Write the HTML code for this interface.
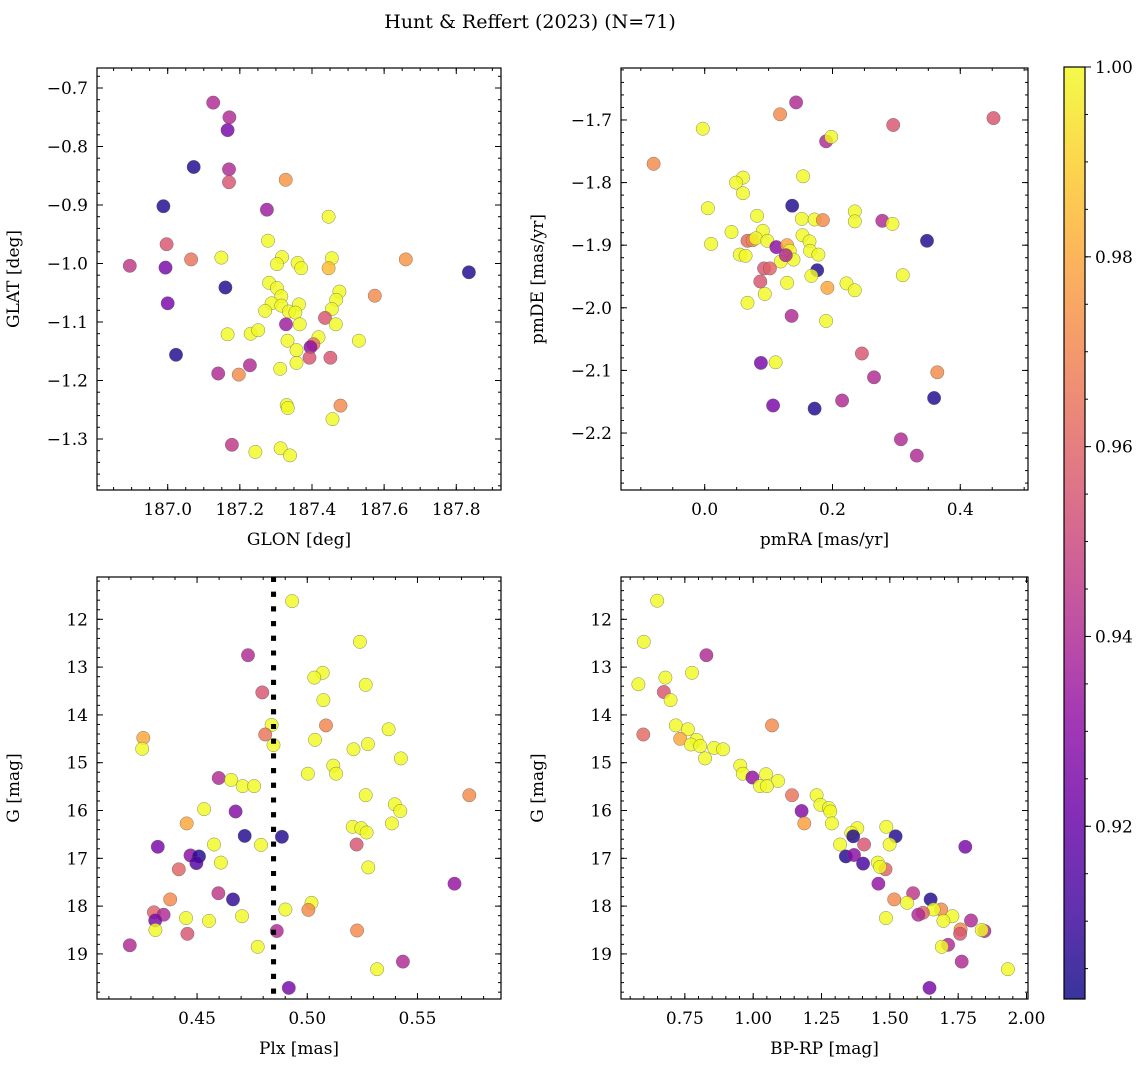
<!DOCTYPE html>
<html><head><meta charset="utf-8">
<style>
html,body{margin:0;padding:0;background:#fff;}
svg{display:block;font-family:"DejaVu Serif","Liberation Serif",serif;}
</style></head>
<body>
<svg id="fig" width="1148" height="1067" viewBox="0 0 1148 1067" xmlns="http://www.w3.org/2000/svg">
<text x="530" y="28" font-size="19" text-anchor="middle">Hunt &amp; Reffert (2023) (N=71)</text>
</svg>
<script>
// ---------- data ----------
const p1Glon=[187.126,187.171,187.166,187.072,187.170,187.170,187.327,186.988,187.275,187.446,187.278,186.997,187.065,187.149,186.895,186.994,187.317,187.303,187.360,187.370,187.455,187.446,187.660,187.835,187.160,187.281,187.303,187.315,187.476,187.574,187.467,187.288,187.315,187.364,187.270,187.336,187.354,187.455,187.000,187.436,187.328,187.366,187.466,187.166,187.230,187.251,187.332,187.418,187.530,187.404,187.396,187.357,187.023,187.393,187.451,187.228,187.357,187.312,187.140,187.197,187.330,187.333,187.479,187.457,187.178,187.243,187.313,187.339];
const p1Glat=[-0.725,-0.750,-0.772,-0.835,-0.839,-0.861,-0.857,-0.902,-0.908,-0.920,-0.961,-0.967,-0.993,-0.990,-1.004,-1.007,-0.989,-1.001,-0.999,-1.008,-0.991,-1.008,-0.993,-1.015,-1.041,-1.033,-1.042,-1.056,-1.048,-1.055,-1.062,-1.068,-1.072,-1.070,-1.081,-1.082,-1.084,-1.078,-1.068,-1.093,-1.104,-1.104,-1.104,-1.121,-1.120,-1.114,-1.132,-1.126,-1.132,-1.138,-1.143,-1.148,-1.156,-1.161,-1.161,-1.174,-1.170,-1.180,-1.188,-1.190,-1.242,-1.247,-1.243,-1.266,-1.310,-1.322,-1.316,-1.328];
const p1Prob=[0.94,0.94,0.925,0.905,0.94,0.955,0.975,0.905,0.935,1,1,0.955,0.965,1,0.945,0.925,1,1,1,1,1,0.985,0.975,0.905,0.905,1,1,1,1,0.972,1,1,1,1,1,1,1,1,0.925,0.955,0.935,1,1,1,1,1,1,1,1,0.965,0.93,1,0.905,0.955,0.955,0.94,1,1,0.94,0.972,1,1,0.972,1,0.945,1,1,1];

const p2Pmra=[0.143,0.118,0.452,0.295,-0.003,0.190,0.198,-0.080,0.154,0.060,0.049,0.060,0.005,0.137,0.082,0.152,0.172,0.185,0.235,0.235,0.278,0.294,0.348,0.042,0.010,0.091,0.067,0.075,0.080,0.098,0.153,0.164,0.112,0.129,0.055,0.064,0.133,0.165,0.178,0.119,0.139,0.127,0.093,0.102,0.176,0.167,0.087,0.129,0.222,0.235,0.192,0.310,0.094,0.067,0.136,0.190,0.246,0.088,0.111,0.364,0.265,0.359,0.215,0.107,0.172,0.307,0.332];
const p2Pmde=[-1.672,-1.691,-1.697,-1.708,-1.714,-1.734,-1.727,-1.770,-1.790,-1.792,-1.800,-1.817,-1.841,-1.837,-1.853,-1.858,-1.859,-1.860,-1.846,-1.862,-1.861,-1.866,-1.893,-1.879,-1.898,-1.877,-1.893,-1.892,-1.889,-1.893,-1.884,-1.894,-1.903,-1.900,-1.915,-1.917,-1.909,-1.909,-1.915,-1.926,-1.923,-1.916,-1.937,-1.937,-1.940,-1.949,-1.958,-1.960,-1.961,-1.972,-1.968,-1.948,-1.978,-1.992,-2.013,-2.021,-2.073,-2.088,-2.087,-2.103,-2.111,-2.144,-2.148,-2.156,-2.161,-2.210,-2.236];
const p2Prob=[0.94,0.972,0.955,0.955,1,0.94,1,0.972,1,1,1,1,1,0.905,1,1,1,0.972,1,1,0.94,1,0.905,1,1,1,0.962,0.97,1,1,1,1,0.93,0.98,1,1,1,1,1,1,1,0.94,0.955,0.96,0.905,1,0.955,1,1,1,0.98,1,1,1,0.94,1,0.955,0.925,1,0.972,0.94,0.905,0.94,0.925,0.905,0.94,0.94];

const p3Plx=[0.4931,0.5239,0.4731,0.5070,0.5032,0.5265,0.4796,0.5073,0.4838,0.5085,0.5369,0.4256,0.4809,0.5035,0.4847,0.4251,0.5275,0.5210,0.5425,0.5118,0.5131,0.5003,0.4598,0.4655,0.4707,0.4759,0.5265,0.5735,0.5397,0.5422,0.4532,0.4675,0.4453,0.5384,0.5206,0.5245,0.5269,0.4716,0.4885,0.4322,0.4577,0.4790,0.5224,0.4470,0.4509,0.4497,0.4608,0.4417,0.5277,0.5668,0.4597,0.4663,0.4378,0.5019,0.4901,0.5005,0.4304,0.4348,0.4310,0.4450,0.4554,0.4704,0.4311,0.4862,0.5226,0.4456,0.4195,0.4775,0.5434,0.5317,0.4916];
const p3G=[11.62,12.47,12.75,13.12,13.22,13.37,13.53,13.69,14.21,14.22,14.30,14.48,14.41,14.52,14.63,14.71,14.61,14.72,14.91,15.06,15.23,15.23,15.32,15.36,15.49,15.49,15.68,15.68,15.87,16.01,15.97,16.02,16.27,16.27,16.34,16.37,16.46,16.53,16.55,16.76,16.71,16.72,16.71,16.94,16.96,17.10,17.09,17.23,17.19,17.53,17.73,17.86,17.86,17.93,18.07,18.08,18.13,18.18,18.30,18.25,18.31,18.21,18.50,18.52,18.51,18.58,18.82,18.85,19.16,19.32,19.71];
const p3Prob=[1,1,0.94,1,1,1,0.955,1,1,0.97,1,0.98,0.965,1,1,1,1,1,1,1,1,1,0.94,1,1,1,1,0.972,1,1,1,0.928,0.98,1,1,1,1,0.905,0.905,0.925,1,1,0.955,0.93,0.905,0.915,1,0.96,1,0.932,0.945,0.908,0.972,1,1,0.972,0.96,0.94,0.925,1,1,1,1,0.94,0.972,0.955,0.94,1,0.94,1,0.925];
const plxCut=0.4847;

const p4Bprp=[0.649,0.600,0.829,0.679,0.776,0.580,0.673,0.698,0.717,0.761,1.069,0.598,0.733,0.793,0.772,0.806,0.824,0.857,0.890,0.953,0.962,0.997,1.047,1.091,1.025,1.050,1.142,1.232,1.246,1.277,1.282,1.177,1.187,1.288,1.381,1.359,1.366,1.487,1.521,1.499,1.406,1.776,1.318,1.339,1.369,1.402,1.456,1.484,1.464,1.458,1.585,1.649,1.516,1.563,1.688,1.660,1.621,1.604,1.729,1.696,1.486,1.797,1.759,1.757,1.846,1.836,1.713,1.690,1.763,1.932,1.645];
const p4G=[11.61,12.47,12.75,13.22,13.12,13.36,13.52,13.69,14.22,14.30,14.22,14.41,14.50,14.52,14.62,14.65,14.91,14.69,14.72,15.06,15.23,15.31,15.24,15.38,15.49,15.49,15.68,15.68,15.88,15.95,16.02,16.01,16.27,16.27,16.37,16.47,16.54,16.34,16.54,16.71,16.71,16.76,16.71,16.96,16.93,17.11,17.09,17.23,17.18,17.53,17.73,17.86,17.86,17.93,18.07,18.07,18.14,18.18,18.21,18.31,18.25,18.30,18.49,18.58,18.52,18.50,18.81,18.85,19.16,19.32,19.71];
const p4Prob=[1,1,0.94,1,1,1,0.955,1,1,1,0.972,0.962,0.98,1,1,1,1,1,1,1,1,0.932,1,1,1,1,0.965,1,1,1,1,0.928,0.978,1,1,1,0.905,1,0.905,1,0.955,0.925,1,0.905,0.93,0.913,1,0.96,1,0.932,0.945,0.905,0.972,1,0.972,1,0.96,0.94,1,1,1,0.94,0.972,0.955,0.94,1,0.94,1,0.94,1,0.925];

const p1XTicks=[187.0,187.2,187.4,187.6,187.8];
const p1XLabels=["187.0","187.2","187.4","187.6","187.8"];
const p1YTicks=[-0.7,-0.8,-0.9,-1.0,-1.1,-1.2,-1.3];
const p1YLabels=["−0.7","−0.8","−0.9","−1.0","−1.1","−1.2","−1.3"];
const p2XTicks=[0.0,0.2,0.4];
const p2XLabels=["0.0","0.2","0.4"];
const p2YTicks=[-1.7,-1.8,-1.9,-2.0,-2.1,-2.2];
const p2YLabels=["−1.7","−1.8","−1.9","−2.0","−2.1","−2.2"];
const p3XTicks=[0.45,0.50,0.55];
const p3XLabels=["0.45","0.50","0.55"];
const gTicks=[12,13,14,15,16,17,18,19];
const gLabels=["12","13","14","15","16","17","18","19"];
const p4XTicks=[0.75,1.00,1.25,1.50,1.75,2.00];
const p4XLabels=["0.75","1.00","1.25","1.50","1.75","2.00"];
const cbTicks=[1.00,0.98,0.96,0.94,0.92];
const cbLabels=["1.00","0.98","0.96","0.94","0.92"];
const cMin=0.9018, cMax=1.0;

// ---------- helpers ----------
const NS="http://www.w3.org/2000/svg";
const svg=document.getElementById('fig');
function mk(tag,attrs,parent){const e=document.createElementNS(NS,tag);for(const k in attrs)e.setAttribute(k,attrs[k]);(parent||svg).appendChild(e);return e;}
const plasmaStops=[[13,8,135],[65,4,157],[106,0,168],[143,13,164],[177,42,144],[204,71,120],[225,100,98],[242,132,75],[252,166,54],[252,206,37],[240,249,33]];
function plasma(t){t=Math.max(0,Math.min(1,t));const f=t*10;const i=Math.min(9,Math.floor(f));const r=f-i;const a=plasmaStops[i],b=plasmaStops[i+1];return 'rgb('+a.map((v,k)=>Math.round(v+(b[k]-v)*r)).join(',')+')';}

const panels=[
 {name:'glon-glat',xs:p1Glon,ys:p1Glat,cs:p1Prob,box:[97,68,501,490],xr:[186.804,187.924],yr:[-0.6658,-1.3872],
  xt:p1XTicks,xl:p1XLabels,yt:p1YTicks,yl:p1YLabels,xmin:0.05,ymin:0.02,xlab:'GLON [deg]',ylab:'GLAT [deg]'},
 {name:'pm',xs:p2Pmra,ys:p2Pmde,cs:p2Prob,box:[621,68,1028,490],xr:[-0.131,0.506],yr:[-1.617,-2.291],
  xt:p2XTicks,xl:p2XLabels,yt:p2YTicks,yl:p2YLabels,xmin:0.05,ymin:0.02,xlab:'pmRA [mas/yr]',ylab:'pmDE [mas/yr]'},
 {name:'plx-g',xs:p3Plx,ys:p3G,cs:p3Prob,box:[97,577,501,999],xr:[0.4046,0.5879],yr:[11.115,19.943],
  xt:p3XTicks,xl:p3XLabels,yt:gTicks,yl:gLabels,xmin:0.01,ymin:0.2,xlab:'Plx [mas]',ylab:'G [mag]'},
 {name:'cmd',xs:p4Bprp,ys:p4G,cs:p4Prob,box:[621,577,1028,999],xr:[0.5164,2.0055],yr:[11.115,19.943],
  xt:p4XTicks,xl:p4XLabels,yt:gTicks,yl:gLabels,xmin:0.05,ymin:0.2,xlab:'BP-RP [mag]',ylab:'G [mag]'}
];

panels.forEach((p,pi)=>{
 const [x0,y0,x1,y1]=p.box;
 const sx=v=>x0+(v-p.xr[0])/(p.xr[1]-p.xr[0])*(x1-x0);
 const sy=v=>y0+(v-p.yr[0])/(p.yr[1]-p.yr[0])*(y1-y0);
 const g=mk('g',{});
 
 
 const clipId='clip'+pi;
 const cp=mk('clipPath',{id:clipId},g);mk('rect',{x:x0,y:y0,width:x1-x0,height:y1-y0},cp);
 const pts=mk('g',{'clip-path':'url(#'+clipId+')'},g);
 
 
 if(pi===2){
  const ln=mk('line',{x1:sx(plxCut),x2:sx(plxCut),y1:y0,y2:y1,stroke:'#000','stroke-width':5,'stroke-dasharray':'5 9.7'},pts);
  
  
 }
 for(let i=0;i<p.xs.length;i++){
  const c=mk('circle',{cx:sx(p.xs[i]).toFixed(1),cy:sy(p.ys[i]).toFixed(1),r:6.7,fill:plasma((p.cs[i]-cMin)/(cMax-cMin)),'fill-opacity':0.82,stroke:'#555','stroke-width':0.5,'stroke-opacity':0.7},pts);
  
  
 }
 if(pi===2){ /* draw cut line above points like reference */
  const ln2=mk('line',{x1:sx(plxCut),x2:sx(plxCut),y1:y0,y2:y1,stroke:'#000','stroke-width':5,'stroke-dasharray':'5 9.7'},pts);
  
  
 }
 // frame
 const fr=mk('rect',{x:x0,y:y0,width:x1-x0,height:y1-y0,fill:'none',stroke:'#000','stroke-width':1.2},g);
 
 
 // ticks
 const tk=mk('g',{stroke:'#000','stroke-width':1},g);
 const xlo=Math.min(...p.xr),xhi=Math.max(...p.xr),ylo=Math.min(...p.yr),yhi=Math.max(...p.yr);
 for(let v=Math.ceil(xlo/p.xmin)*p.xmin;v<=xhi;v+=p.xmin){const X=sx(v);mk('line',{x1:X,x2:X,y1:y1,y2:y1-3},tk);mk('line',{x1:X,x2:X,y1:y0,y2:y0+3},tk);}
 for(let v=Math.ceil(ylo/p.ymin)*p.ymin;v<=yhi;v+=p.ymin){const Y=sy(v);mk('line',{x1:x0,x2:x0+3,y1:Y,y2:Y},tk);mk('line',{x1:x1,x2:x1-3,y1:Y,y2:Y},tk);}
 p.xt.forEach((v,i)=>{const X=sx(v);mk('line',{x1:X,x2:X,y1:y1,y2:y1-6},tk);mk('line',{x1:X,x2:X,y1:y0,y2:y0+6},tk);
  const t=mk('text',{x:X,y:y1+25,'font-size':17,'text-anchor':'middle'},g);t.textContent=p.xl[i];
  
  });
 p.yt.forEach((v,i)=>{const Y=sy(v);mk('line',{x1:x0,x2:x0+6,y1:Y,y2:Y},tk);mk('line',{x1:x1,x2:x1-6,y1:Y,y2:Y},tk);
  const t=mk('text',{x:x0-9,y:Y+6,'font-size':17,'text-anchor':'end'},g);t.textContent=p.yl[i];
  
  });
 const xl=mk('text',{x:(x0+x1)/2,y:y1+55,'font-size':17,'text-anchor':'middle'},g);xl.textContent=p.xlab;
 
 
 const yx=x0-78, yc=(y0+y1)/2;
 const yl=mk('text',{x:yx,y:yc,'font-size':17,'text-anchor':'middle',transform:'rotate(-90 '+yx+' '+yc+')'},g);yl.textContent=p.ylab;
 
 
});

// ---------- colorbar ----------
const cb=mk('g',{});


const cx0=1064,cx1=1085,cy0=67,cy1=999;
const defs=mk('defs',{},cb);
const lg=mk('linearGradient',{id:'cbg',x1:0,y1:1,x2:0,y2:0},defs);
plasmaStops.forEach((s,i)=>mk('stop',{offset:(i/10),'stop-color':'rgb('+s.join(',')+')'},lg));
const cr=mk('rect',{x:cx0,y:cy0,width:cx1-cx0,height:cy1-cy0,fill:'url(#cbg)','fill-opacity':0.82},cb);


mk('rect',{x:cx0,y:cy0,width:cx1-cx0,height:cy1-cy0,fill:'none',stroke:'#000','stroke-width':1.2},cb);
const cy=v=>cy1-(v-cMin)/(cMax-cMin)*(cy1-cy0);
for(let v=Math.ceil(cMin/0.005)*0.005;v<=cMax+1e-9;v+=0.005){mk('line',{x1:cx1,x2:cx1+3,y1:cy(v),y2:cy(v),stroke:'#000'},cb);}
cbTicks.forEach((v,i)=>{const Y=cy(v);mk('line',{x1:cx1,x2:cx1+6,y1:Y,y2:Y,stroke:'#000'},cb);
 const t=mk('text',{x:cx1+10,y:Y+6,'font-size':17},cb);t.textContent=cbLabels[i];
 
 });
</script>
</body></html>
